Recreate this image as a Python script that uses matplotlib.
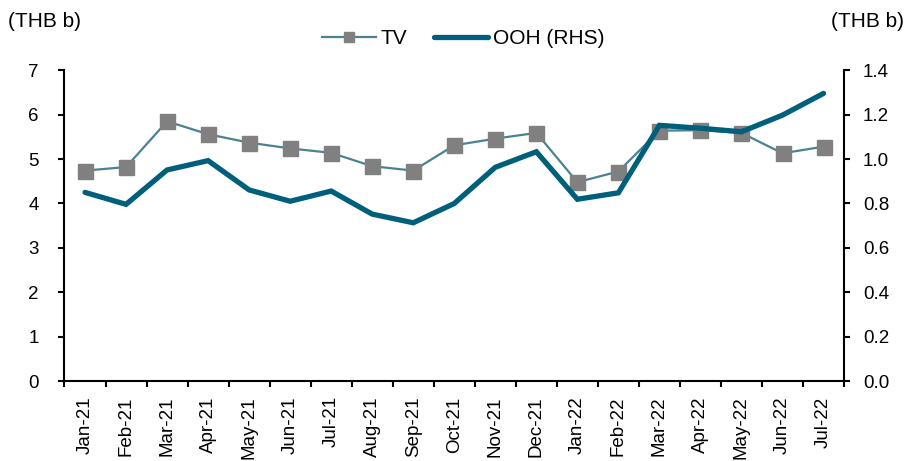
import matplotlib
matplotlib.use("Agg")
import matplotlib.pyplot as plt
import numpy as np

months = ["Jan-21", "Feb-21", "Mar-21", "Apr-21", "May-21", "Jun-21", "Jul-21",
          "Aug-21", "Sep-21", "Oct-21", "Nov-21", "Dec-21", "Jan-22", "Feb-22",
          "Mar-22", "Apr-22", "May-22", "Jun-22", "Jul-22"]
tv = [4.74, 4.82, 5.85, 5.56, 5.37, 5.24, 5.14, 4.84, 4.74, 5.31, 5.46, 5.59,
      4.48, 4.72, 5.64, 5.65, 5.59, 5.13, 5.28]
ooh = [0.850, 0.796, 0.951, 0.993, 0.861, 0.810, 0.856, 0.752, 0.713, 0.800,
       0.963, 1.033, 0.819, 0.848, 1.152, 1.139, 1.123, 1.198, 1.296]

plt.rcParams['font.family'] = ['Liberation Sans', 'DejaVu Sans']
plt.rcParams['font.size'] = 13.5

fig = plt.figure(figsize=(9.07, 4.61), dpi=100)
ax = fig.add_axes([0.0711, 0.1735, 0.8595, 0.674])
ax2 = ax.twinx()

x = np.arange(len(months))
l1, = ax.plot(x, tv, color="#4A8291", lw=1.6, marker="s", markersize=10.8,
              markerfacecolor="#808080", markeredgecolor="#808080", label="TV", zorder=3)
l2, = ax2.plot(x, ooh, color="#005F7A", lw=3.8, solid_capstyle="round",
               solid_joinstyle="miter", label="OOH (RHS)", zorder=3)

ax.set_xlim(-0.5, len(months) - 0.5)
ax.set_ylim(0, 7)
ax2.set_ylim(0, 1.4)
ax.set_yticks(np.arange(0, 8, 1))
ax2.set_yticks(np.arange(0, 1.41, 0.2))
ax2.set_yticklabels([f"{v:.1f}" for v in np.arange(0, 1.41, 0.2)])

ax.set_xticks(x)
ax.set_xticklabels(months, rotation=90)
ax.set_xticks(np.arange(-0.5, len(months), 1), minor=True)
ax.tick_params(axis="x", which="major", length=0, pad=11)
ax.tick_params(axis="x", which="minor", length=4.5, width=1.5, direction="out")
ax.tick_params(axis="y", length=4.5, width=1.5, direction="out", pad=14)
ax2.tick_params(axis="y", length=4.5, width=1.5, direction="out", pad=9)

for a in (ax, ax2):
    a.spines["top"].set_visible(False)
    for s in ("left", "right", "bottom"):
        a.spines[s].set_linewidth(1.5)
ax.spines["right"].set_visible(False)
ax2.spines["left"].set_visible(False)
ax2.spines["bottom"].set_visible(False)

fig.text(0.009, 0.954, "(THB b)", ha="left", va="center", fontsize=15)
fig.text(0.997, 0.954, "(THB b)", ha="right", va="center", fontsize=15)

fig.legend(handles=[l1, l2], loc="center", bbox_to_anchor=(0.5105, 0.9165), ncol=2,
           frameon=False, handlelength=2.6, columnspacing=1.25, handletextpad=0.25,
           fontsize=15, markerscale=0.73)

fig.savefig("out.png", dpi=100)
